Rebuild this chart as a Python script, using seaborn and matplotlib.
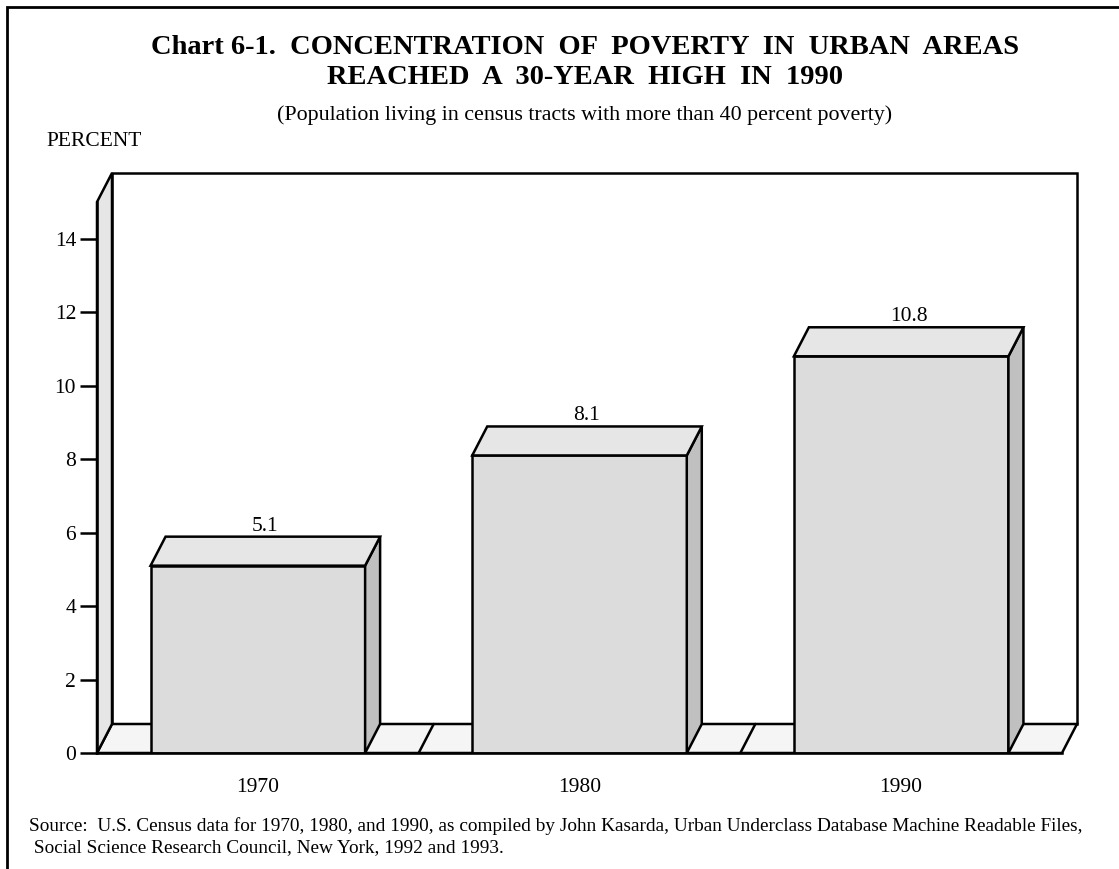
import matplotlib
matplotlib.use('Agg')
import matplotlib.pyplot as plt
from matplotlib.patches import Polygon, Rectangle
import seaborn as sns
import pandas as pd

# chart data
years = ['1970', '1980', '1990']
percent = [5.1, 8.1, 10.8]
y_ticks = [0, 2, 4, 6, 8, 10, 12, 14]

title_1 = 'Chart 6-1.  CONCENTRATION  OF  POVERTY  IN  URBAN  AREAS'
title_2 = 'REACHED  A  30-YEAR  HIGH  IN  1990'
subtitle = '(Population living in census tracts with more than 40 percent poverty)'
source_1 = ('Source:  U.S. Census data for 1970, 1980, and 1990, as compiled by John Kasarda, '
            'Urban Underclass Database Machine Readable Files,')
source_2 = ' Social Science Research Council, New York, 1992 and 1993.'

sns.set_theme(style='white')
plt.rcParams['font.family'] = ['Liberation Serif', 'DejaVu Serif']
plt.rcParams['text.color'] = 'black'
plt.rcParams['xtick.color'] = 'black'
plt.rcParams['ytick.color'] = 'black'

W, H = 1119, 869
fig = plt.figure(figsize=(W / 100, H / 100), dpi=100)
ax = fig.add_axes([97 / W, 116 / H, 965 / W, 551 / H])

df = pd.DataFrame({'year': years, 'percent': percent})
sns.barplot(data=df, x='year', y='percent', color='#dcdcdc', saturation=1,
            width=0.667, edgecolor='black', linewidth=1.8, errorbar=None,
            ax=ax, zorder=3)
bars = list(ax.patches)

YMAX = 15
ax.set_xlim(-0.5, len(years) - 0.5)
ax.set_ylim(0, YMAX)
ax.set_yticks(y_ticks)
ax.set_xlabel('')
ax.set_ylabel('')

# depth of the fake 3d box, in data units (15 px across, 29 px up)
dx = 15 / (965 / len(years))
dy = 29 / (551 / YMAX)
lw = 1.8
x0, x1 = -0.5, len(years) - 0.5

# back wall, floor and left wall
ax.add_patch(Rectangle((x0 + dx, dy), x1 - x0, YMAX, fc='white', ec='black',
                       lw=lw, clip_on=False, zorder=0))
ax.add_patch(Polygon([(x0, 0), (x1, 0), (x1 + dx, dy), (x0 + dx, dy)],
                     fc='#f5f5f5', ec='black', lw=lw, clip_on=False, zorder=1))
for b in range(1, len(years)):
    ax.plot([b - 0.5, b - 0.5 + dx], [0, dy], color='black', lw=lw,
            clip_on=False, zorder=1.5)
ax.add_patch(Polygon([(x0, 0), (x0 + dx, dy), (x0 + dx, YMAX + dy), (x0, YMAX)],
                     fc='#e6e6e6', ec='black', lw=lw, clip_on=False, zorder=2))

# side and top faces of each bar + value label
for bar, val in zip(bars, percent):
    bx, bw, bh = bar.get_x(), bar.get_width(), bar.get_height()
    ax.add_patch(Polygon([(bx + bw, 0), (bx + bw + dx, dy), (bx + bw + dx, bh + dy), (bx + bw, bh)],
                         fc='#c0c0c0', ec='black', lw=lw, clip_on=False, zorder=3))
    ax.add_patch(Polygon([(bx, bh), (bx + bw, bh), (bx + bw + dx, bh + dy), (bx + dx, bh + dy)],
                         fc='#e6e6e6', ec='black', lw=lw, clip_on=False, zorder=3))
    ax.annotate(f'{val}', (bx + bw / 2 + dx / 2, bh + dy), xytext=(0, 6),
                textcoords='offset pixels', ha='center', va='baseline',
                fontsize=15.5, color='black')

for side in ['top', 'right']:
    ax.spines[side].set_visible(False)
for side in ['left', 'bottom']:
    ax.spines[side].set_linewidth(lw)
    ax.spines[side].set_color('black')
    ax.spines[side].set_zorder(4)

ax.tick_params(axis='y', length=12, width=lw, pad=3, labelsize=15.5,
               colors='black', left=True, direction='out')
ax.tick_params(axis='x', length=0, pad=18, labelsize=15.5, colors='black')
ax.patch.set_visible(False)

# texts
fig.text(585 / W, 1 - 54 / H, title_1, ha='center', va='baseline',
         fontsize=20.5, fontweight='bold')
fig.text(585 / W, 1 - 84 / H, title_2, ha='center', va='baseline',
         fontsize=20.5, fontweight='bold')
fig.text(585 / W, 1 - 120 / H, subtitle, ha='center', va='baseline', fontsize=15.8)
fig.text(46 / W, 1 - 146 / H, 'PERCENT', ha='left', va='baseline', fontsize=15.5)
fig.text(29 / W, 1 - 831 / H, source_1, ha='left', va='baseline', fontsize=13.9)
fig.text(29 / W, 1 - 852 / H, source_2, ha='left', va='baseline', fontsize=13.9)

# outer frame
fig.add_artist(Rectangle((7 / W, -0.05), 1.2, 1.05 - 7 / H, transform=fig.transFigure,
                         fill=False, ec='black', lw=2, clip_on=False))

fig.savefig('out.png', dpi=100)
